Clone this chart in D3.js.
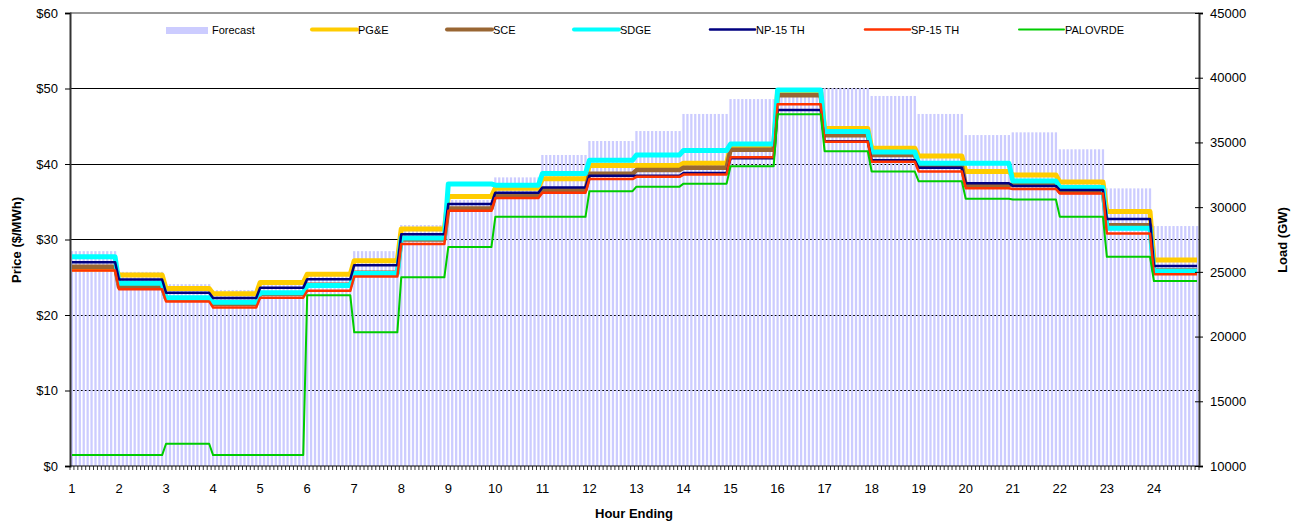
<!DOCTYPE html>
<html>
<head>
<meta charset="utf-8">
<script src="https://cdn.jsdelivr.net/npm/d3@7"></script>
<style>
  html, body { margin: 0; padding: 0; background: #fff; }
  svg text { font-family: "Liberation Sans", Arial, sans-serif; }
</style>
</head>
<body>
<svg id="chart" width="1294" height="523"></svg>
<script>
// ---------------- DATA ----------------
const hours = [1,2,3,4,5,6,7,8,9,10,11,12,13,14,15,16,17,18,19,20,21,22,23,24];
const intervalsPerHour = 12;
const forecastLoad = [26600,25000,24050,23600,24150,24950,26600,28620,30550,32300,34030,35110,35880,37200,38350,39050,39200,38590,37200,35570,35780,34470,31450,28540];
const pge   = [26.1,25.3,23.5,22.8,24.3,25.4,27.2,31.4,35.7,36.8,38.05,39.8,39.8,40.1,42.3,49.5,44.7,42.1,41.05,39.0,38.55,37.6,33.7,27.3];
const sce   = [26.4,23.7,22.2,21.5,22.8,24.0,25.6,30.0,34.1,35.9,36.6,38.7,39.2,39.5,41.9,49.1,43.8,41.2,39.8,37.2,37.3,36.3,31.9,25.9];
const sdge  = [27.7,24.2,22.3,21.7,22.95,23.9,25.5,30.2,37.35,37.2,38.75,40.5,41.2,41.8,42.65,49.8,44.3,41.6,40.1,40.1,37.75,36.9,31.5,25.8];
const np15  = [27.0,24.7,22.95,22.25,23.6,24.75,26.6,30.7,34.7,36.2,36.9,38.45,38.45,38.8,40.75,47.15,43.0,40.5,39.5,37.45,37.1,36.55,32.7,26.5];
const sp15  = [25.9,23.4,21.8,21.0,22.3,23.2,25.1,29.4,33.8,35.5,36.2,38.0,38.3,38.6,40.9,47.9,42.95,40.3,39.0,36.8,36.7,36.1,30.8,25.4];
const palo  = [1.45,1.45,2.95,1.45,1.45,22.6,17.7,25.0,29.0,33.0,33.0,36.4,37.0,37.4,39.7,46.6,41.7,39.0,37.7,35.4,35.3,33.0,27.7,24.5];
const priceTicks = [0,10,20,30,40,50,60];
const loadTicks = [10000,15000,20000,25000,30000,35000,40000,45000];

const seriesNames  = ["PG&E","SCE","SDGE","NP-15 TH","SP-15 TH","PALOVRDE"];
const seriesValues = [pge, sce, sdge, np15, sp15, palo];
const seriesColors = ["#FFCC00","#996633","#00FFFF","#000080","#FF3300","#00CC00"];
const seriesWidths = [5, 4.5, 5, 2.5, 2.5, 2];

// ---------------- LAYOUT ----------------
const svg = d3.select("#chart");
const L = 70, R = 1199, T = 13, B = 466;

const nCat = hours.length * intervalsPerHour;
const cats = d3.range(nCat);
const x = d3.scaleBand().domain(cats).range([L, R]).paddingInner(0.42).paddingOuter(0.21);
const yP = d3.scaleLinear().domain([0, 60]).range([B, T]);
const yL = d3.scaleLinear().domain([10000, 45000]).range([B, T]);
const cx = i => x(i) + x.bandwidth() / 2;
const hourOf = i => Math.floor(i / intervalsPerHour);

// gridlines (behind bars)
svg.append("g").selectAll("line")
  .data(priceTicks.filter(d => d > 0 && d < 60))
  .join("line")
  .attr("x1", L).attr("x2", R)
  .attr("y1", d => yP(d)).attr("y2", d => yP(d))
  .attr("stroke", "#000").attr("stroke-width", 1)
  .attr("shape-rendering", "crispEdges");

// forecast bars
svg.append("g").selectAll("rect")
  .data(cats)
  .join("rect")
  .attr("x", i => x(i))
  .attr("width", x.bandwidth())
  .attr("y", i => yL(forecastLoad[hourOf(i)]))
  .attr("height", i => B - yL(forecastLoad[hourOf(i)]))
  .attr("fill", "#CCCCFF");

// top border
svg.append("line").attr("x1", L).attr("x2", R).attr("y1", T).attr("y2", T)
  .attr("stroke", "#999").attr("stroke-width", 2);

// price lines
const line = d3.line().x(d => cx(d.i)).y(d => yP(d.v));
seriesValues.forEach((vals, k) => {
  const pts = cats.map(i => ({ i, v: vals[hourOf(i)] }));
  svg.append("path")
    .attr("d", line(pts))
    .attr("fill", "none")
    .attr("stroke", seriesColors[k])
    .attr("stroke-width", seriesWidths[k])
    .attr("stroke-linejoin", "round");
});

// left axis
const axL = d3.axisLeft(yP).tickValues(priceTicks).tickFormat(d => "$" + d).tickSize(5).tickPadding(7);
const gL = svg.append("g").attr("transform", `translate(${L},0)`).call(axL);
gL.select(".domain").attr("stroke", "#333").attr("stroke-width", 2);
gL.selectAll(".tick line").attr("stroke", "#000");
gL.selectAll("text").attr("font-size", 13).attr("fill", "#000")
  .attr("font-family", "Liberation Sans, Arial, sans-serif");

// right axis
const axR = d3.axisRight(yL).tickValues(loadTicks).tickFormat(d3.format("d")).tickSize(4).tickPadding(7);
const gR = svg.append("g").attr("transform", `translate(${R},0)`).call(axR);
gR.select(".domain").attr("stroke", "#333").attr("stroke-width", 2);
gR.selectAll(".tick line").attr("stroke", "#000").attr("x1", -4);
gR.selectAll("text").attr("font-size", 13).attr("fill", "#000")
  .attr("font-family", "Liberation Sans, Arial, sans-serif");

// bottom axis: minor ticks at every category boundary
const gB = svg.append("g");
gB.append("line").attr("x1", L).attr("x2", R).attr("y1", B).attr("y2", B)
  .attr("stroke", "#000").attr("stroke-width", 1);
gB.selectAll("line.mt").data(d3.range(nCat + 1)).join("line")
  .attr("class", "mt")
  .attr("x1", i => L + i * x.step()).attr("x2", i => L + i * x.step())
  .attr("y1", B).attr("y2", B + 4)
  .attr("stroke", "#000").attr("stroke-width", 0.8);
gB.selectAll("text").data(hours).join("text")
  .attr("x", (h, k) => cx(k * intervalsPerHour))
  .attr("y", 493)
  .attr("text-anchor", "middle")
  .attr("font-size", 13)
  .text(h => h);

// axis titles
svg.append("text").attr("transform", "translate(21,240) rotate(-90)")
  .attr("text-anchor", "middle").attr("font-size", 13).attr("font-weight", "bold")
  .text("Price ($/MWh)");
svg.append("text").attr("transform", "translate(1287,240) rotate(-90)")
  .attr("text-anchor", "middle").attr("font-size", 13).attr("font-weight", "bold")
  .text("Load (GW)");
svg.append("text").attr("x", 634).attr("y", 518)
  .attr("text-anchor", "middle").attr("font-size", 13).attr("font-weight", "bold")
  .text("Hour Ending");

// legend
const legendItems = [
  { name: "Forecast", type: "rect", color: "#CCCCFF", x: 166 },
  ...seriesNames.map((n, k) => ({ name: n, type: "line", color: seriesColors[k], w: Math.min(seriesWidths[k], 4), x: [312, 447, 574, 710, 865, 1019][k] }))
];
const lg = svg.append("g");
legendItems.forEach(it => {
  if (it.type === "rect") {
    lg.append("rect").attr("x", it.x).attr("y", 27).attr("width", 42).attr("height", 7).attr("fill", it.color);
  } else {
    lg.append("line").attr("x1", it.x).attr("x2", it.x + 45).attr("y1", 29.5).attr("y2", 29.5)
      .attr("stroke", it.color).attr("stroke-width", it.w).attr("stroke-linecap", "round");
  }
  lg.append("text").attr("x", it.x + 46).attr("y", 34).attr("font-size", 11).text(it.name);
});
</script>
</body>
</html>
